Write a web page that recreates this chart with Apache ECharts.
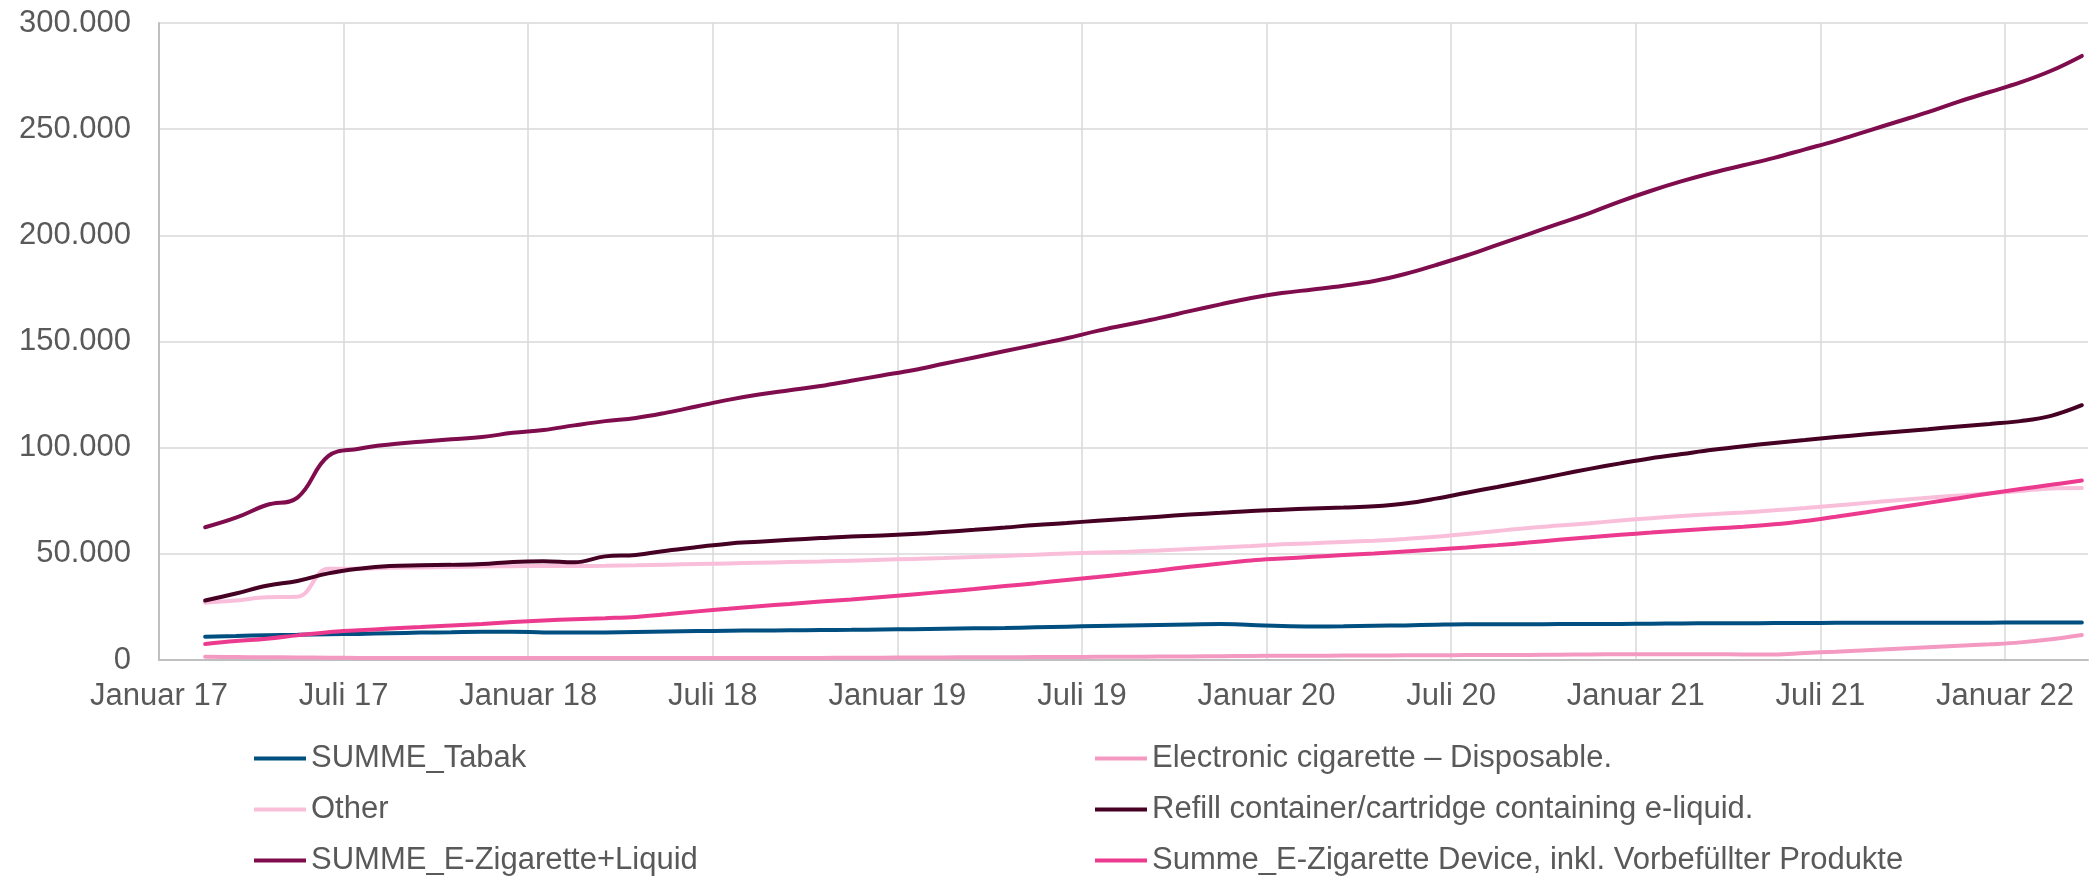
<!DOCTYPE html>
<html>
<head>
<meta charset="utf-8">
<title>E-Zigarette und Tabak</title>
<script src="https://cdn.jsdelivr.net/npm/echarts@6/dist/echarts.min.js"></script>
<style>
  html, body { margin: 0; padding: 0; background: #fff; }
  #chart { width: 2094px; height: 876px; }
</style>
</head>
<body>
<div id="chart"></div>
<script>
// monthly points, Feb 2017 .. Mar 2022
const months = [
  '2017-02', '2017-03', '2017-04', '2017-05', '2017-06', '2017-07', '2017-08', '2017-09', '2017-10', '2017-11', '2017-12',
  '2018-01', '2018-02', '2018-03', '2018-04', '2018-05', '2018-06', '2018-07', '2018-08', '2018-09', '2018-10', '2018-11', '2018-12',
  '2019-01', '2019-02', '2019-03', '2019-04', '2019-05', '2019-06', '2019-07', '2019-08', '2019-09', '2019-10', '2019-11', '2019-12',
  '2020-01', '2020-02', '2020-03', '2020-04', '2020-05', '2020-06', '2020-07', '2020-08', '2020-09', '2020-10', '2020-11', '2020-12',
  '2021-01', '2021-02', '2021-03', '2021-04', '2021-05', '2021-06', '2021-07', '2021-08', '2021-09', '2021-10', '2021-11', '2021-12',
  '2022-01', '2022-02', '2022-03'
];

// x axis labels, one every 6 months starting Jan 2017
const tickLabels = [
  'Januar 17', 'Juli 17', 'Januar 18', 'Juli 18', 'Januar 19', 'Juli 19',
  'Januar 20', 'Juli 20', 'Januar 21', 'Juli 21', 'Januar 22'
];

// values in thousands
const summeTabak = [
  11.0, 11.3, 11.7, 11.9, 12.1, 12.3, 12.6, 12.9, 13.1, 13.3, 13.3,
  13.0, 12.9, 13.0, 13.2, 13.4, 13.6, 13.8, 13.9, 14.0, 14.1, 14.2, 14.4,
  14.5, 14.7, 14.9, 15.1, 15.4, 15.7, 16.0, 16.3, 16.5, 16.7, 16.9, 16.5,
  16.0, 15.8, 15.9, 16.1, 16.3, 16.6, 16.8, 16.8, 16.8, 16.9, 16.9, 17.0,
  17.1, 17.2, 17.3, 17.3, 17.4, 17.4, 17.5, 17.5, 17.5, 17.6, 17.6, 17.6,
  17.7, 17.7, 17.7
];
const disposable = [
  1.5, 1.4, 1.3, 1.2, 1.1, 1.0, 1.0, 0.9, 0.9, 0.9, 0.9,
  0.9, 0.9, 0.9, 0.9, 1.0, 1.0, 1.0, 1.0, 1.0, 1.0, 1.1, 1.1,
  1.2, 1.2, 1.3, 1.3, 1.4, 1.4, 1.5, 1.5, 1.6, 1.7, 1.8, 1.9,
  2.0, 2.0, 2.1, 2.1, 2.2, 2.2, 2.3, 2.3, 2.4, 2.5, 2.6, 2.7,
  2.7, 2.7, 2.7, 2.6, 2.6, 3.3, 3.9, 4.6, 5.3, 6.0, 6.7, 7.4,
  8.3, 9.8, 11.8
];
const other = [
  27.0, 28.0, 29.6, 29.8, 43.0, 43.0, 43.5, 43.6, 43.8, 44.0, 44.2,
  44.3, 44.3, 44.4, 44.6, 44.9, 45.2, 45.5, 45.8, 46.1, 46.4, 46.8, 47.2,
  47.6, 48.0, 48.5, 49.0, 49.6, 50.2, 50.6, 51.0, 51.6, 52.3, 53.0, 53.7,
  54.5, 55.0, 55.6, 56.2, 57.0, 58.0, 59.3, 60.8, 62.2, 63.3, 64.4, 65.7,
  66.8, 67.8, 68.7, 69.5, 70.5, 71.6, 72.8, 74.0, 75.2, 76.4, 77.5, 78.5,
  79.6, 80.8, 81.0
];
const refill = [
  28.0, 31.3, 35.0, 37.2, 40.8, 43.0, 44.3, 44.6, 44.8, 45.2, 46.2,
  46.5, 46.0, 48.8, 49.5, 51.5, 53.2, 54.8, 55.7, 56.6, 57.4, 58.2, 58.6,
  59.3, 60.3, 61.3, 62.4, 63.6, 64.5, 65.6, 66.5, 67.5, 68.5, 69.3, 70.2,
  70.8, 71.3, 71.8, 72.4, 73.7, 76.0, 78.8, 81.5, 84.3, 87.2, 90.0, 92.6,
  95.0, 97.0, 99.0, 100.7, 102.2, 103.6, 105.0, 106.3, 107.5, 108.7, 110.0, 111.2,
  112.5, 115.0, 120.0
];
const summeEZigLiquid = [
  62.5, 67.0, 73.0, 76.5, 96.0, 99.5, 101.5, 102.8, 104.0, 105.0, 107.0,
  108.3, 110.5, 112.5, 114.0, 116.5, 119.5, 122.5, 125.0, 127.0, 129.0, 131.5, 134.0,
  136.5, 139.5, 142.5, 145.5, 148.5, 151.5, 155.0, 158.0, 161.0, 164.3, 167.5, 170.5,
  172.8, 174.5, 176.3, 178.5, 181.8, 186.0, 190.5, 195.5, 200.5, 205.5, 210.5, 216.0,
  221.0, 225.5, 229.5, 233.0, 236.5, 240.5, 244.5, 249.0, 253.5, 258.0, 263.0, 267.5,
  272.0, 277.5, 284.5
];
const summeDevice = [
  7.5, 8.9, 10.0, 11.6, 13.1, 14.0, 14.8, 15.5, 16.3, 17.0, 17.9,
  18.6, 19.2, 19.7, 20.3, 21.5, 22.9, 24.1, 25.3, 26.4, 27.5, 28.5, 29.7,
  30.9, 32.1, 33.4, 34.8, 36.2, 37.7, 39.1, 40.6, 42.2, 43.9, 45.4, 46.9,
  47.8, 48.6, 49.4, 50.2, 51.1, 52.0, 53.0, 54.1, 55.3, 56.6, 57.8, 59.0,
  60.0, 61.0, 61.9, 62.8, 63.9, 65.5, 67.5, 69.6, 71.8, 74.0, 76.2, 78.4,
  80.5, 82.5, 84.5
];

const TEXT_COLOR = '#595959';
const FONT = "'Liberation Sans', Arial, sans-serif";

// month slot centre, counted in months from Jan 2017
function monthPos(ym) {
  const [y, m] = ym.split('-').map(Number);
  return (y - 2017) * 12 + (m - 1) + 0.5;
}

function formatThousands(v) {
  return String(Math.round(v)).replace(/\B(?=(\d{3})+(?!\d))/g, '.');
}

function toPoints(values) {
  return months.map((m, i) => [monthPos(m), values[i] * 1000]);
}

// legend cell: column 0/1, row 0..2 (Excel fills the legend row by row)
const seriesDefs = [
  { name: 'SUMME_Tabak', color: '#004f80', values: summeTabak, col: 0, row: 0 },
  { name: 'Electronic cigarette – Disposable.', color: '#f49ac2', values: disposable, col: 1, row: 0 },
  { name: 'Other', color: '#f9bfda', values: other, col: 0, row: 1 },
  { name: 'Refill container/cartridge containing e-liquid.', color: '#450024', values: refill, col: 1, row: 1 },
  { name: 'SUMME_E-Zigarette+Liquid', color: '#7f0d4d', values: summeEZigLiquid, col: 0, row: 2 },
  { name: 'Summe_E-Zigarette Device, inkl. Vorbefüllter Produkte', color: '#ec3a8e', values: summeDevice, col: 1, row: 2 }
];

const LEGEND_LEFT = [254, 1095];
const LEGEND_TOP = 743;
const LEGEND_ROW = 51;

const legends = seriesDefs.map((s) => ({
  orient: 'horizontal',
  left: LEGEND_LEFT[s.col],
  top: LEGEND_TOP + s.row * LEGEND_ROW,
  padding: 0,
  itemWidth: 52,
  itemHeight: 4,
  icon: 'rect',
  selectedMode: false,
  textStyle: { color: TEXT_COLOR, fontSize: 31, fontFamily: FONT, lineHeight: 31 },
  data: [s.name]
}));

const chart = echarts.init(document.getElementById('chart'), null, { renderer: 'canvas' });

chart.setOption({
  backgroundColor: '#ffffff',
  animation: false,
  grid: { left: 159, right: 6, top: 23, bottom: 216, containLabel: false },
  legend: legends,
  xAxis: {
    type: 'value',
    min: 0,
    max: 62.7,
    interval: 6,
    axisLine: { show: true, lineStyle: { color: '#bfbfbf', width: 2 } },
    axisTick: { show: false },
    axisLabel: {
      color: TEXT_COLOR,
      fontSize: 31,
      fontFamily: FONT,
      margin: 21,
      showMaxLabel: false,
      formatter: (v) => (v % 6 === 0 ? tickLabels[v / 6] || '' : '')
    },
    splitLine: {
      show: true,
      showMinLine: false,
      showMaxLine: false,
      lineStyle: { color: '#d9d9d9', width: 1.5 }
    }
  },
  yAxis: {
    type: 'value',
    min: 0,
    max: 300000,
    interval: 50000,
    axisLine: { show: true, lineStyle: { color: '#bfbfbf', width: 2 } },
    axisTick: { show: false },
    axisLabel: {
      color: TEXT_COLOR,
      fontSize: 31,
      fontFamily: FONT,
      margin: 28,
      formatter: (v) => formatThousands(v)
    },
    splitLine: {
      show: true,
      showMinLine: false,
      lineStyle: { color: '#d9d9d9', width: 1.5 }
    }
  },
  series: seriesDefs.map((s) => ({
    name: s.name,
    type: 'line',
    smooth: 0.4,
    showSymbol: false,
    symbol: 'none',
    color: s.color,
    lineStyle: { color: s.color, width: 4, cap: 'round' },
    itemStyle: { color: s.color },
    data: toPoints(s.values)
  }))
});
</script>
</body>
</html>
